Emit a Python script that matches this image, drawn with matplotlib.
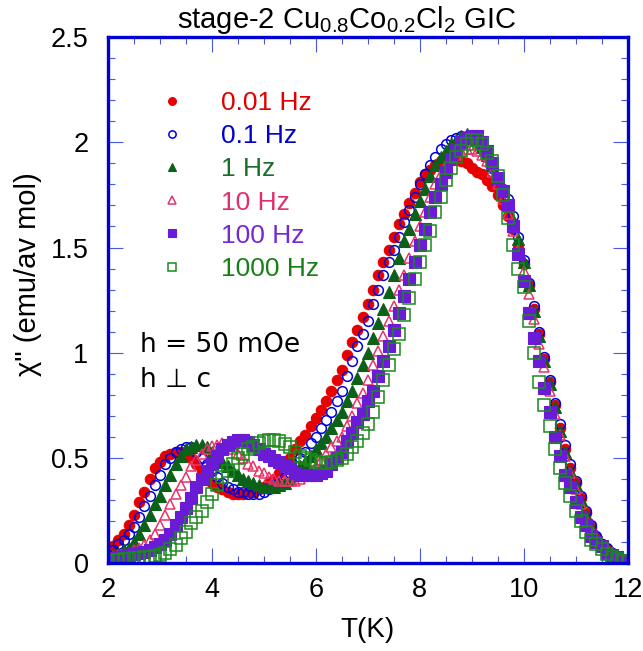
import numpy as np
import matplotlib
matplotlib.use('Agg')
import matplotlib.pyplot as plt
import matplotlib.ticker as ticker

plt.rcParams['font.family'] = ['Liberation Sans', 'DejaVu Sans']
plt.rcParams['mathtext.fontset'] = 'custom'
plt.rcParams['mathtext.rm'] = 'Liberation Sans'
plt.rcParams['mathtext.it'] = 'Liberation Sans:italic'

# temperature grid of the measurement (K)
T = np.round(np.arange(2.0, 12.0001, 0.1), 1)

chi_001 = [0.05, 0.08, 0.11, 0.14, 0.18, 0.23, 0.29, 0.34, 0.40, 0.45,
           0.48, 0.51, 0.52, 0.53, 0.53, 0.52, 0.50, 0.47, 0.44, 0.41,
           0.38, 0.36, 0.35, 0.34, 0.33, 0.33, 0.33, 0.34, 0.34, 0.35,
           0.36, 0.38, 0.40, 0.43, 0.46, 0.50, 0.54, 0.58, 0.61, 0.65,
           0.69, 0.73, 0.77, 0.82, 0.87, 0.92, 0.99, 1.05, 1.11, 1.17,
           1.23, 1.30, 1.37, 1.43, 1.49, 1.55, 1.61, 1.66, 1.71, 1.76,
           1.81, 1.85, 1.87, 1.89, 1.91, 1.92, 1.92, 1.92, 1.91, 1.90,
           1.88, 1.86, 1.85, 1.82, 1.79, 1.75, 1.70, 1.65, 1.59, 1.50,
           1.42, 1.32, 1.21, 1.09, 0.97, 0.86, 0.75, 0.64, 0.54, 0.45,
           0.38, 0.31, 0.24, 0.17, 0.125, 0.09, 0.065, 0.05, 0.035, 0.02,
           0.01]

chi_01 = [0.04, 0.06, 0.09, 0.11, 0.14, 0.17, 0.22, 0.27, 0.32, 0.37,
          0.42, 0.47, 0.50, 0.53, 0.54, 0.55, 0.55, 0.53, 0.50, 0.47,
          0.44, 0.41, 0.38, 0.36, 0.35, 0.34, 0.34, 0.33, 0.33, 0.33,
          0.34, 0.35, 0.37, 0.38, 0.41, 0.43, 0.46, 0.50, 0.53, 0.57,
          0.60, 0.64, 0.68, 0.72, 0.77, 0.82, 0.89, 0.96, 1.03, 1.09,
          1.15, 1.23, 1.30, 1.37, 1.43, 1.49, 1.55, 1.62, 1.68, 1.74,
          1.80, 1.85, 1.89, 1.93, 1.97, 1.99, 2.01, 2.02, 2.03, 2.03,
          2.02, 2.00, 1.97, 1.93, 1.88, 1.83, 1.78, 1.73, 1.65, 1.55,
          1.44, 1.33, 1.22, 1.10, 0.98, 0.87, 0.76, 0.66, 0.56, 0.47,
          0.39, 0.32, 0.25, 0.18, 0.13, 0.09, 0.07, 0.05, 0.035, 0.02,
          0.01]

chi_1 = [0.03, 0.04, 0.045, 0.06, 0.07, 0.10, 0.14, 0.18, 0.23, 0.28,
         0.32, 0.37, 0.42, 0.47, 0.51, 0.54, 0.55, 0.56, 0.56, 0.55,
         0.53, 0.51, 0.48, 0.46, 0.44, 0.42, 0.40, 0.39, 0.38, 0.37,
         0.36, 0.36, 0.36, 0.37, 0.38, 0.40, 0.43, 0.46, 0.48, 0.51,
         0.54, 0.57, 0.60, 0.64, 0.68, 0.72, 0.77, 0.82, 0.88, 0.94,
         1.00, 1.07, 1.14, 1.21, 1.29, 1.37, 1.45, 1.53, 1.59, 1.66,
         1.72, 1.78, 1.84, 1.89, 1.93, 1.96, 1.99, 2.01, 2.03, 2.04,
         2.03, 2.01, 1.98, 1.94, 1.89, 1.83, 1.77, 1.71, 1.63, 1.54,
         1.43, 1.32, 1.20, 1.08, 0.96, 0.85, 0.74, 0.63, 0.53, 0.44,
         0.37, 0.30, 0.23, 0.17, 0.12, 0.085, 0.06, 0.045, 0.03, 0.02,
         0.01]

chi_10 = [0.03, 0.035, 0.04, 0.045, 0.05, 0.06, 0.07, 0.085, 0.11, 0.14,
          0.18, 0.23, 0.28, 0.33, 0.37, 0.41, 0.46, 0.49, 0.52, 0.54,
          0.555, 0.56, 0.57, 0.56, 0.54, 0.52, 0.50, 0.47, 0.46, 0.44,
          0.43, 0.41, 0.40, 0.39, 0.39, 0.39, 0.39, 0.40, 0.42, 0.44,
          0.46, 0.49, 0.52, 0.55, 0.58, 0.60, 0.65, 0.70, 0.76, 0.81,
          0.87, 0.94, 1.01, 1.08, 1.15, 1.22, 1.30, 1.37, 1.45, 1.53,
          1.60, 1.67, 1.74, 1.80, 1.85, 1.89, 1.92, 1.94, 1.96, 1.97,
          1.97, 1.96, 1.94, 1.91, 1.86, 1.80, 1.73, 1.66, 1.58, 1.49,
          1.39, 1.28, 1.16, 1.04, 0.93, 0.82, 0.71, 0.61, 0.51, 0.43,
          0.35, 0.28, 0.21, 0.16, 0.11, 0.08, 0.06, 0.04, 0.03, 0.02,
          0.01]

chi_100 = [0.02, 0.025, 0.03, 0.035, 0.04, 0.045, 0.05, 0.055, 0.06, 0.075,
           0.09, 0.11, 0.14, 0.18, 0.22, 0.26, 0.31, 0.36, 0.40, 0.44,
           0.47, 0.51, 0.54, 0.56, 0.575, 0.585, 0.585, 0.575, 0.56, 0.54,
           0.52, 0.51, 0.49, 0.48, 0.46, 0.45, 0.43, 0.42, 0.42, 0.42,
           0.42, 0.43, 0.44, 0.47, 0.50, 0.53, 0.58, 0.62, 0.67, 0.71,
           0.77, 0.82, 0.89, 0.96, 1.03, 1.11, 1.19, 1.27, 1.35, 1.43,
           1.51, 1.59, 1.67, 1.74, 1.80, 1.86, 1.92, 1.97, 2.00, 2.02,
           2.03, 2.03, 2.00, 1.96, 1.90, 1.83, 1.77, 1.70, 1.60, 1.47,
           1.34, 1.19, 1.07, 0.96, 0.83, 0.72, 0.60, 0.51, 0.42, 0.36,
           0.29, 0.22, 0.18, 0.13, 0.10, 0.08, 0.05, 0.04, 0.03, 0.015,
           0.01]

chi_1000 = [0.01, 0.015, 0.015, 0.02, 0.02, 0.025, 0.025, 0.03, 0.03, 0.035,
            0.04, 0.05, 0.065, 0.085, 0.12, 0.15, 0.19, 0.22, 0.25, 0.29,
            0.33, 0.37, 0.41, 0.44, 0.47, 0.50, 0.52, 0.54, 0.55, 0.57,
            0.58, 0.585, 0.585, 0.58, 0.565, 0.55, 0.53, 0.51, 0.50, 0.49,
            0.48, 0.475, 0.475, 0.48, 0.49, 0.50, 0.52, 0.55, 0.58, 0.62,
            0.66, 0.72, 0.79, 0.87, 0.94, 1.02, 1.09, 1.18, 1.26, 1.35,
            1.43, 1.51, 1.58, 1.67, 1.74, 1.82, 1.88, 1.93, 1.96, 1.99,
            2.01, 2.01, 1.99, 1.95, 1.91, 1.84, 1.75, 1.64, 1.51, 1.40,
            1.31, 1.15, 1.00, 0.86, 0.75, 0.65, 0.54, 0.45, 0.38, 0.32,
            0.25, 0.20, 0.15, 0.11, 0.09, 0.065, 0.045, 0.03, 0.02, 0.01,
            0.005]

labels = ['0.01 Hz', '0.1 Hz', '1 Hz', '10 Hz', '100 Hz', '1000 Hz']
series = [chi_001, chi_01, chi_1, chi_10, chi_100, chi_1000]
markers = ['o', 'o', '^', '^', 's', 's']
colors = ['#e60000', '#0000e0', '#0b6118', '#e8336b', '#6a1bd6', '#1a8a1a']
filled = [True, False, True, False, True, False]
sizes = [7.5, 7.0, 8.0, 7.5, 8.2, 8.2]
text_colors = ['#e00000', '#0000cc', '#1a6e2a', '#e0306a', '#7428d8', '#188018']

fig = plt.figure(figsize=(6.43, 6.51), dpi=100)
ax = fig.add_axes([0.168, 0.135, 0.808, 0.808])

for y, m, c, f, s, lab in zip(series, markers, colors, filled, sizes, labels):
    ax.plot(T, y, linestyle='none', marker=m, markersize=s,
            markerfacecolor=c if f else 'none', markeredgecolor=c,
            markeredgewidth=0.8 if f else 1.1, label=lab)

ax.set_xlim(2, 12)
ax.set_ylim(0, 2.5)
ax.xaxis.set_major_locator(ticker.MultipleLocator(2))
ax.xaxis.set_minor_locator(ticker.MultipleLocator(0.5))
ax.yaxis.set_major_locator(ticker.MultipleLocator(0.5))
ax.yaxis.set_minor_locator(ticker.MultipleLocator(0.1))
ax.yaxis.set_major_formatter(ticker.FuncFormatter(lambda v, p: '%g' % v))

for sp in ax.spines.values():
    sp.set_color('#0000d0')
    sp.set_linewidth(2.4)
ax.tick_params(which='both', direction='in', top=True, right=True,
               color='#4a5ae0', width=0.8, labelsize=19.5, labelcolor='black')
ax.tick_params(which='major', length=10.5)
ax.tick_params(which='minor', length=5)
ax.tick_params(axis='x', which='major', pad=10)
ax.tick_params(axis='y', which='major', pad=14)

ax.set_xlabel('T(K)', fontsize=20, labelpad=10)
ax.set_ylabel('\u03c7" (emu/av mol)', fontsize=21, labelpad=5)
ax.yaxis.set_label_coords(-0.128, 0.55)
fig.text(347 / 643, 1 - 20 / 651, r'stage-2 Cu$_{0.8}$Co$_{0.2}$Cl$_2$ GIC',
         fontsize=21, ha='center', va='center')

ax.legend(loc='upper left', bbox_to_anchor=(0.097, 0.897), frameon=False,
          labelcolor=text_colors, fontsize=19, handlelength=1.0,
          handletextpad=1.39, labelspacing=0.345, borderpad=0,
          borderaxespad=0, markerscale=0.75)

ax.text(0.061, 0.414, 'h = 50 mOe', transform=ax.transAxes, fontsize=19,
        va='center', ha='left', family=['DejaVu Sans'])
ax.text(0.061, 0.348, 'h \u22a5 c', transform=ax.transAxes, fontsize=19,
        va='center', ha='left', family=['DejaVu Sans'])

fig.savefig('out.png', dpi=100)
